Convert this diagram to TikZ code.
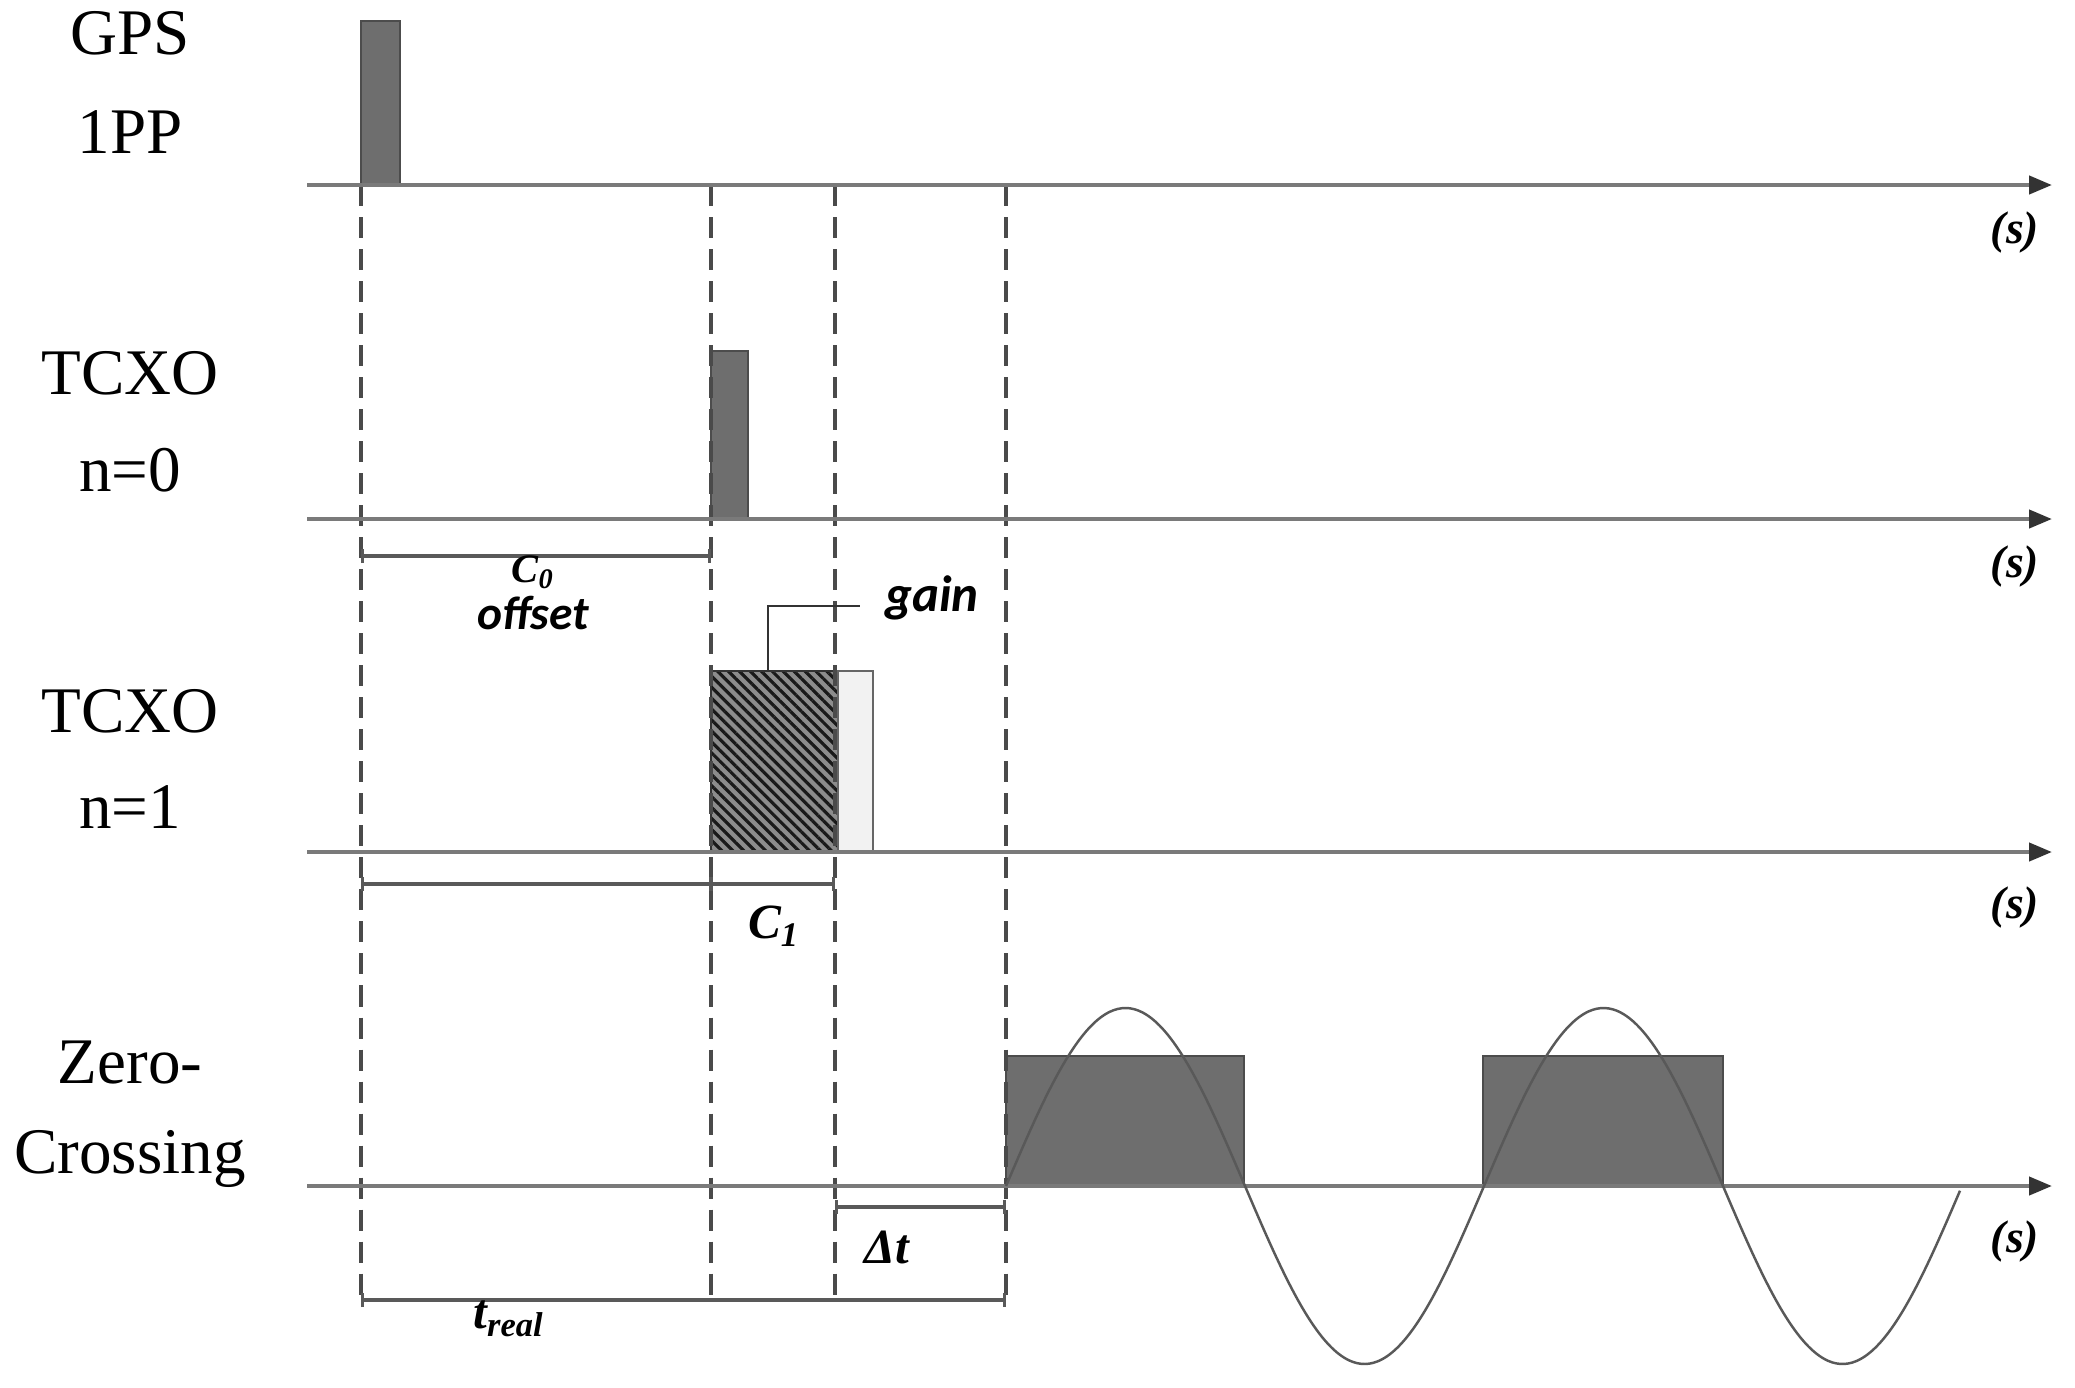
\documentclass[tikz,border=0pt]{standalone}
\usepackage{fontspec}
\setmainfont{Liberation Serif}
\newfontfamily\calib{Carlito}
\usetikzlibrary{arrows.meta,patterns,patterns.meta}
\definecolor{axisgray}{HTML}{7A7A7A}
\definecolor{pulsegray}{HTML}{6E6E6E}
\definecolor{dashgray}{HTML}{4A4A4A}
\begin{document}
\begin{tikzpicture}[x=0.01cm,y=-0.01cm,
  axisline/.style={draw=axisgray,line width=1.2pt,-{Triangle[length=0.23cm,width=0.18cm,color=black!80]}},
  dashv/.style={draw=dashgray,line width=0.9pt,dash pattern=on 0.21cm off 0.11cm},
  pulse/.style={fill=pulsegray,draw=black!70,line width=0.6pt},
  bracket/.style={draw=black!65,line width=0.9pt,{Bar[width=0.14cm]}-{Bar[width=0.14cm]}},
  lbl/.style={font=\fontsize{18.5}{22}\selectfont,inner sep=0pt},
  unit/.style={font=\fontsize{13}{15}\selectfont\bfseries\itshape,inner sep=0pt},
  sym/.style={font=\fontsize{14}{16}\selectfont\bfseries\itshape,inner sep=0pt},
  sansl/.style={font=\calib\fontsize{13.5}{15}\selectfont\bfseries\itshape,inner sep=0pt},
]
\useasboundingbox[fill=white] (0,0) rectangle (2075,1387);

% row labels
\node[lbl] (l1a) at (130,33) {GPS};
\node[lbl] (l1b) at (130,132) {1PP};
\node[lbl] (l2a) at (130,373) {TCXO};
\node[lbl] (l2b) at (130,470) {n=0};
\node[lbl] (l3a) at (130,711) {TCXO};
\node[lbl] (l3b) at (130,807) {n=1};
\node[lbl] (l4a) at (130,1063) {Zero-};
\node[lbl] (l4b) at (130,1159) {Crossing};

% coordinates
\coordinate (a1s) at (307,185);  \coordinate (a1e) at (2052,185);
\coordinate (a2s) at (307,519);  \coordinate (a2e) at (2052,519);
\coordinate (a3s) at (307,852);  \coordinate (a3e) at (2052,852);
\coordinate (a4s) at (307,1186); \coordinate (a4e) at (2052,1186);

% pulses
\draw[pulse] (361,21) rectangle (400,185);
\draw[pulse] (711,351) rectangle (748,519);

% hatched box
\fill[black!45] (711,671) rectangle (838,852);
\fill[pattern={Lines[angle=-45,distance=2.2pt,line width=0.9pt]},pattern color=black!90] (711,671) rectangle (838,852);
\draw[black!80,line width=0.8pt] (711,671) rectangle (838,852);
\draw[fill=black!5,draw=black!60,line width=0.8pt] (838,671) rectangle (873,852);

% zero-crossing boxes
\draw[pulse] (1006,1056) rectangle (1244,1186);
\draw[pulse] (1483,1056) rectangle (1723,1186);

% dashed verticals
\coordinate (d1t) at (361,185);  \coordinate (d1b) at (361,1300);
\coordinate (d2t) at (711,185);  \coordinate (d2b) at (711,1300);
\coordinate (d3t) at (835,185);  \coordinate (d3b) at (835,1300);
\coordinate (d4t) at (1006,185); \coordinate (d4b) at (1006,1300);
\draw[dashv] (d1t) -- (d1b);
\draw[dashv] (d2t) -- (d2b);
\draw[dashv] (d3t) -- (d3b);
\draw[dashv] (d4t) -- (d4b);

% axes
\draw[axisline] (a1s) -- (a1e);
\draw[axisline] (a2s) -- (a2e);
\draw[axisline] (a3s) -- (a3e);
\draw[axisline] (a4s) -- (a4e);

% sine
\draw[black!65,line width=0.7pt] plot[domain=1006:1960,samples=240,smooth] (\x,{1186-178*sin((\x-1006)/478*360)});

% unit labels
\node[unit] (s1) at (2015,232) {(s)};
\node[unit] (s2) at (2015,566) {(s)};
\node[unit] (s3) at (2015,907) {(s)};
\node[unit] (s4) at (2015,1241) {(s)};

% brackets
\draw[bracket] (361,556) -- (711,556);
\node[font=\fontsize{11.5}{13}\selectfont\bfseries\itshape,inner sep=0pt] (c0) at (533,572) {C\textsubscript{0}};
\node[sansl] (off) at (533,613) {offset};

\draw[bracket] (361,884) -- (835,884);
\draw[black!65,line width=0.9pt] (711,877) -- (711,891);
\node[sym] (c1) at (774,926) {C\textsubscript{1}};

\draw[bracket] (835,1207) -- (1006,1207);
\node[sym] (dt) at (887,1247) {Δt};

\draw[bracket] (361,1300) -- (1006,1300);
\node[sym] (tr) at (509,1319) {t\textsubscript{real}};

% gain leader
\coordinate (g1) at (768,671);
\coordinate (g2) at (768,606);
\coordinate (g3) at (860,606);
\draw[black!80,line width=0.8pt] (g1) -- (g2) -- (g3);
\node[sansl,font=\calib\fontsize{14.5}{16}\selectfont\bfseries\itshape] (gain) at (932,598) {gain};
\end{tikzpicture}
\end{document}
